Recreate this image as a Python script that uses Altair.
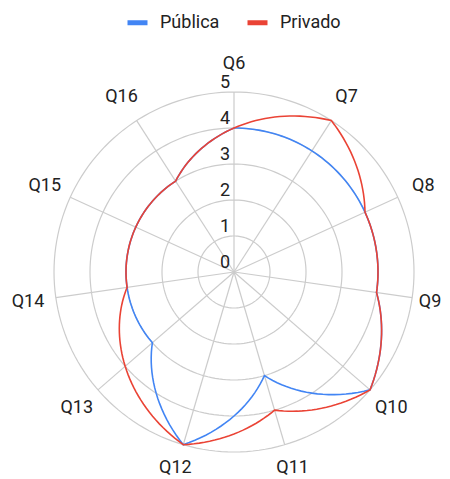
import altair as alt
import pandas as pd

categories = ["Q6", "Q7", "Q8", "Q9", "Q10", "Q11", "Q12", "Q13", "Q14", "Q15", "Q16"]
publica = [4, 4, 4, 4, 5, 3, 5, 3, 3, 3, 3]
privado = [4, 5, 4, 4, 5, 4, 5, 4, 3, 3, 3]
series_names = ["Pública", "Privado"]
rings = [1, 2, 3, 4, 5]
tick_values = [0, 1, 2, 3, 4, 5]

N = len(categories)
BLUE = "#4285F4"
RED = "#EA4335"
GRID = "#cccccc"
FONT = "Roboto"

W, H = 434, 471
UNIT = 36.0
CX, CY = 226.0, 264.0
xdom = [-CX / UNIT, (W - CX) / UNIT]
ydom = [-(H - CY) / UNIT, CY / UNIT]
xs = alt.Scale(domain=xdom, nice=False, zero=False)
ys = alt.Scale(domain=ydom, nice=False, zero=False)
STEP = "(2*PI/%d)" % N
LABEL_R = 5.78
XMAX_LABEL = (W - 12 - CX) / UNIT       # keep labels inside the canvas
YMIN_LABEL = -(H - 11 - CY) / UNIT

# segments table for the series
seg_rows = []
for name, vals in zip(series_names, [publica, privado]):
    for i in range(N):
        seg_rows.append({"series": name, "i": i, "r0": vals[i], "r1": vals[(i + 1) % N]})
seg_df = pd.DataFrame(seg_rows)

def series_layer(name):
    return (
        alt.Chart(seg_df)
        .transform_filter(alt.datum.series == name)
        .transform_calculate(t="sequence(0, 21)")
        .transform_flatten(["t"])
        .transform_calculate(
            ang="(datum.i + datum.t/20)*" + STEP,
            rr="datum.r0 + (datum.r1 - datum.r0)*datum.t/20",
            order="datum.i*100 + datum.t",
        )
        .transform_calculate(px="datum.rr*sin(datum.ang)", py="datum.rr*cos(datum.ang)")
        .mark_line(strokeWidth=1.6, interpolate="linear")
        .encode(
            x=alt.X("px:Q", scale=xs, axis=None),
            y=alt.Y("py:Q", scale=ys, axis=None),
            order="order:Q",
            color=alt.Color(
                "series:N",
                scale=alt.Scale(domain=series_names, range=[BLUE, RED]),
                legend=alt.Legend(
                    title=None,
                    orient="none",
                    legendX=117,
                    legendY=2,
                    direction="horizontal",
                    symbolType="stroke",
                    symbolStrokeWidth=5,
                    symbolSize=400,
                    labelFont=FONT,
                    labelFontSize=18,
                    labelColor="#222222",
                    labelOffset=10,
                    columnPadding=17,
                ),
            ),
        )
    )

ring_df = pd.DataFrame({"ring": rings})
ring_layer = (
    alt.Chart(ring_df)
    .transform_calculate(t="sequence(0, 181)")
    .transform_flatten(["t"])
    .transform_calculate(ang="datum.t*2*PI/180")
    .transform_calculate(px="datum.ring*sin(datum.ang)", py="datum.ring*cos(datum.ang)")
    .mark_line(color=GRID, strokeWidth=1.2)
    .encode(
        x=alt.X("px:Q", scale=xs, axis=None),
        y=alt.Y("py:Q", scale=ys, axis=None),
        detail="ring:N",
        order="t:Q",
    )
)

cat_df = pd.DataFrame({"cat": categories, "i": list(range(N))})
spoke_layer = (
    alt.Chart(cat_df)
    .transform_calculate(
        ang="datum.i*" + STEP,
        x0="0",
        y0="0",
    )
    .transform_calculate(px="5*sin(datum.ang)", py="5*cos(datum.ang)")
    .mark_rule(color=GRID, strokeWidth=1.2)
    .encode(
        x=alt.X("x0:Q", scale=xs, axis=None),
        y=alt.Y("y0:Q", scale=ys, axis=None),
        x2="px:Q",
        y2="py:Q",
    )
)

label_layer = (
    alt.Chart(cat_df)
    .transform_calculate(ang="datum.i*" + STEP)
    .transform_calculate(
        px="min(%f*sin(datum.ang), %f)" % (LABEL_R, XMAX_LABEL),
        py="max(%f*cos(datum.ang), %f)" % (LABEL_R, YMIN_LABEL),
    )
    .mark_text(font=FONT, fontSize=18, color="#222222", align="center", baseline="middle")
    .encode(
        x=alt.X("px:Q", scale=xs, axis=None),
        y=alt.Y("py:Q", scale=ys, axis=None),
        text="cat:N",
    )
)

tick_df = pd.DataFrame({"v": tick_values})
tick_layer = (
    alt.Chart(tick_df)
    .transform_calculate(x0="0", lab="datum.v + ''")
    .mark_text(font=FONT, fontSize=18, color="#222222", align="right", baseline="bottom", dx=-4, dy=0)
    .encode(
        x=alt.X("x0:Q", scale=xs, axis=None),
        y=alt.Y("v:Q", scale=ys, axis=None),
        text="lab:N",
    )
)

chart = (
    alt.layer(ring_layer, spoke_layer, series_layer("Pública"), series_layer("Privado"), label_layer, tick_layer)
    .properties(width=W, height=H, padding=0, autosize=alt.AutoSizeParams(type="none"))
    .configure_view(strokeWidth=0)
)

chart.save("out.html", embed_options={"renderer": "svg", "actions": False})
